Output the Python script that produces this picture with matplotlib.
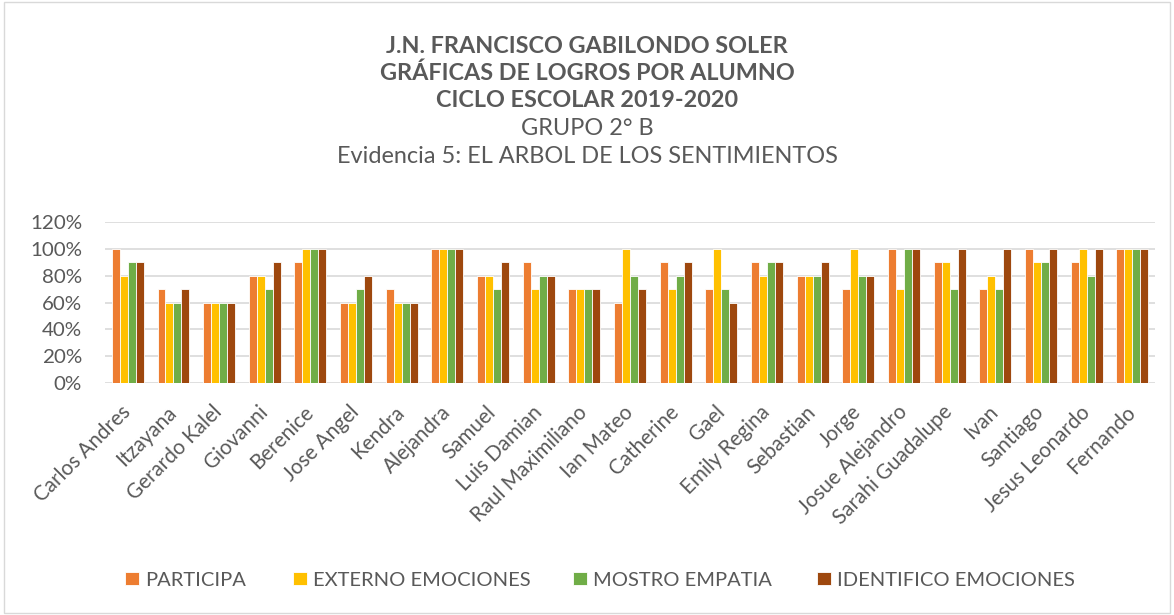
import matplotlib
matplotlib.use("Agg")
import matplotlib.pyplot as plt
import numpy as np
from matplotlib.patches import Rectangle
from matplotlib.ticker import PercentFormatter

plt.rcParams['font.family'] = ['Lato', 'DejaVu Sans']

students = ["Carlos Andres", "Itzayana", "Gerardo Kalel", "Giovanni", "Berenice",
            "Jose Angel", "Kendra", "Alejandra", "Samuel", "Luis Damian",
            "Raul Maximiliano", "Ian Mateo", "Catherine", "Gael", "Emily Regina",
            "Sebastian", "Jorge", "Josue Alejandro", "Sarahi Guadalupe", "Ivan",
            "Santiago", "Jesus Leonardo", "Fernando"]

participa = [100, 70, 60, 80, 90, 60, 70, 100, 80, 90, 70, 60, 90, 70, 90, 80, 70, 100, 90, 70, 100, 90, 100]
externo = [80, 60, 60, 80, 100, 60, 60, 100, 80, 70, 70, 100, 70, 100, 80, 80, 100, 70, 90, 80, 90, 100, 100]
empatia = [90, 60, 60, 70, 100, 70, 60, 100, 70, 80, 70, 80, 80, 70, 90, 80, 80, 100, 70, 70, 90, 80, 100]
identifico = [90, 70, 60, 90, 100, 80, 60, 100, 90, 80, 70, 70, 90, 60, 90, 90, 80, 100, 100, 100, 100, 100, 100]

series_names = ["PARTICIPA", "EXTERNO EMOCIONES", "MOSTRO EMPATIA", "IDENTIFICO EMOCIONES"]
series_vals = [participa, externo, empatia, identifico]
colors = ["#ED7D31", "#FFC000", "#70AD47", "#9E480E"]

title_lines = ["J.N. FRANCISCO GABILONDO SOLER", "GRÁFICAS DE LOGROS POR ALUMNO",
               "CICLO ESCOLAR 2019-2020", "GRUPO 2° B",
               "Evidencia 5: EL ARBOL DE LOS SENTIMIENTOS"]

W, H = 1174, 615
TXT = "#595959"


def fx(px):
    return px / W


def fy(py):
    return 1 - py / H


fig = plt.figure(figsize=(W / 100, H / 100), dpi=100)
fig.patches.append(Rectangle((0.003, 0.004), 0.994, 0.992, transform=fig.transFigure,
                             fill=False, edgecolor="#d9d9d9", linewidth=1))

ax = fig.add_axes([fx(105), fy(383), fx(1155) - fx(105), fy(222) - fy(383)])
x = np.arange(len(students))
w = 0.175
bars = []
for i, (name, vals, c) in enumerate(zip(series_names, series_vals, colors)):
    b = ax.bar(x + (i - 1.5) * w, np.array(vals) / 100, width=w, color=c,
               edgecolor="white", linewidth=0.6, label=name, zorder=3)
    bars.append(b)

ax.set_xlim(-0.5, len(students) - 0.5)
ax.set_ylim(0, 1.2)
ax.set_yticks(np.arange(0, 1.21, 0.2))
ax.yaxis.set_major_formatter(PercentFormatter(1.0, decimals=0))
ax.grid(axis='y', color="#d9d9d9", linewidth=1.2, zorder=0)
for s in ax.spines.values():
    s.set_visible(False)
ax.tick_params(axis='y', length=0, colors=TXT, labelsize=16, pad=23 * 0.72)
ax.tick_params(axis='x', length=0, colors=TXT, labelsize=15, pad=6)
ax.set_xticks(x)
ax.set_xticklabels(students, rotation=45, ha='right', va='center', rotation_mode='anchor')

# title texts (baselines in px)
bold_flags = [True, True, True, False, False]
baselines = [53, 80, 107, 135, 163]
targets_w = [391, 405, 315, 137, 487]
titles = []
for t, b, yb in zip(title_lines, bold_flags, baselines):
    titles.append(fig.text(0.5, fy(yb), t, ha='center', va='baseline', fontsize=16,
                           fontweight='bold' if b else 'normal', color=TXT))

fig.canvas.draw()
r = fig.canvas.get_renderer()

for group in ([0, 1, 2], [3, 4]):
    ratios = [targets_w[k] / titles[k].get_window_extent(r).width for k in group]
    s = 16 * float(np.mean(ratios))
    for k in group:
        titles[k].set_fontsize(s)

lab = [t for t in ax.get_yticklabels() if t.get_text().startswith('120')][0]
ysz = 16 * 52 / lab.get_window_extent(r).width
ax.tick_params(axis='y', labelsize=ysz)

lab = ax.get_xticklabels()[0]
xsz = 15 * 104 / lab.get_window_extent(r).width
ax.tick_params(axis='x', labelsize=xsz)
fig.canvas.draw()
lab = ax.get_xticklabels()[0]
bb = lab.get_window_extent(r)
top_px = H - bb.y1
shift = 402 - top_px
ax.tick_params(axis='x', pad=6 + shift * 0.72)

tmp = fig.text(0, 0, "PARTICIPA", fontsize=14)
lsz = 14 * 101 / tmp.get_window_extent(r).width
tmp.remove()
lpx = lsz / 72 * 100
handle_x = [125, 293, 573, 817]
for b, name, hx in zip(bars, series_names, handle_x):
    lg = fig.legend(handles=[b], labels=[name], loc='center left',
                    bbox_to_anchor=(fx(hx), fy(580)), frameon=False,
                    borderpad=0, borderaxespad=0, fontsize=lsz,
                    handlelength=14 / lpx, handleheight=13 / lpx, handletextpad=6 / lpx)
    for t in lg.get_texts():
        t.set_color(TXT)

fig.savefig("out.png", dpi=100)
